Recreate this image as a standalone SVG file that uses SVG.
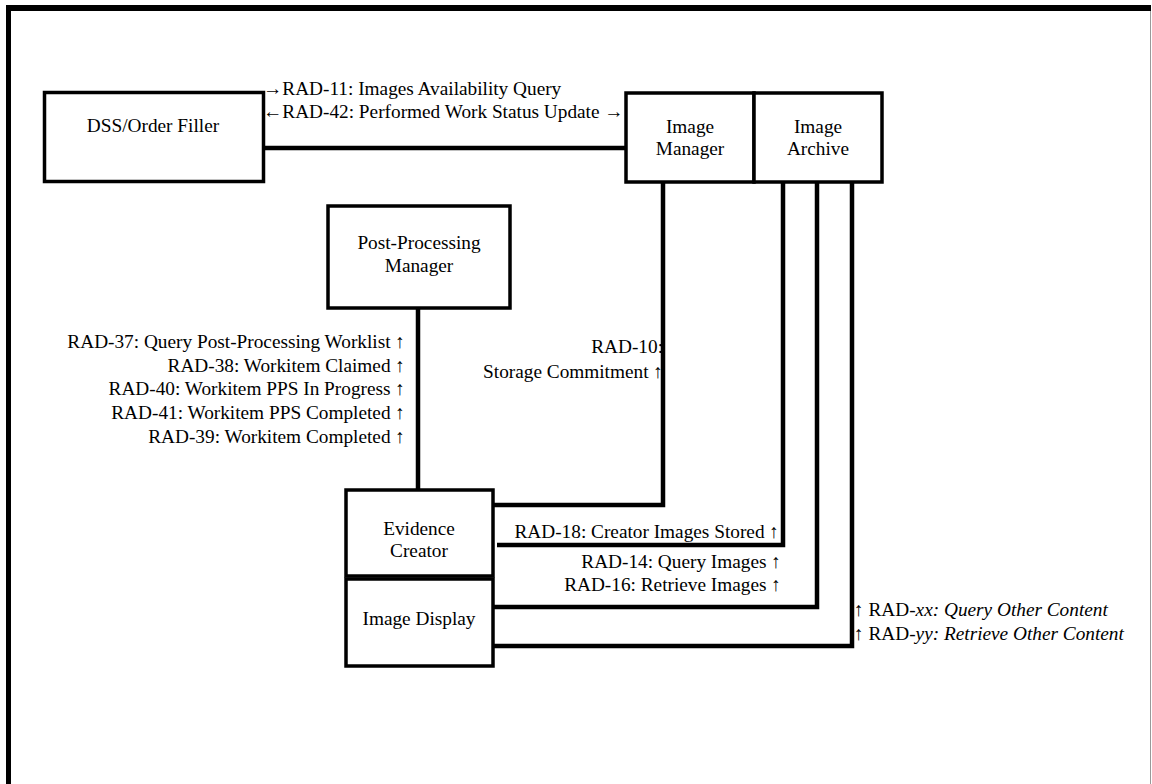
<svg xmlns="http://www.w3.org/2000/svg" width="1152" height="784" viewBox="0 0 1152 784">
<style>
.box{fill:#fff;stroke:#000;stroke-width:3.5}
.t{font-family:"Liberation Serif","Times New Roman",serif;font-size:19.3px;fill:#000}
.c{text-anchor:middle}
.r{text-anchor:end}
.i{font-style:italic}
.ln{fill:none;stroke:#000;stroke-width:4.5;stroke-linecap:butt;stroke-linejoin:miter}
</style>
<rect width="1152" height="784" fill="#fff"/>
<g id="frame">
<rect x="6" y="5" width="1145" height="6" fill="#000"/>
<rect x="6" y="5" width="5" height="779" fill="#000"/>
<line x1="1150.5" y1="11" x2="1150.5" y2="784" stroke="#999" stroke-width="1"/>
</g>
<g id="connectors">
<polyline class="ln" points="264,148 627,148"/>
<polyline class="ln" points="418,308 418,490"/>
<polyline class="ln" points="663,183 663,505 493,505"/>
<polyline class="ln" points="783,183 783,545 497,545"/>
<polyline class="ln" points="817,183 817,607 493,607"/>
<polyline class="ln" points="852,183 852,646 493,646"/>
</g>
<g id="labels">
<text class="t" x="263" y="95">→RAD-11: Images Availability Query</text>
<text class="t" x="263" y="118">←RAD-42: Performed Work Status Update →</text>
<text class="t r" x="405" y="348">RAD-37: Query Post-Processing Worklist ↑</text>
<text class="t r" x="405" y="372">RAD-38: Workitem Claimed ↑</text>
<text class="t r" x="405" y="395">RAD-40: Workitem PPS In Progress ↑</text>
<text class="t r" x="405" y="419">RAD-41: Workitem PPS Completed ↑</text>
<text class="t r" x="405" y="443">RAD-39: Workitem Completed ↑</text>
<text class="t r" x="663" y="353">RAD-10:</text>
<text class="t r" x="663" y="378">Storage Commitment ↑</text>
<text class="t r" x="779" y="538">RAD-18: Creator Images Stored ↑</text>
<text class="t r" x="781" y="568">RAD-14: Query Images ↑</text>
<text class="t r" x="781" y="591">RAD-16: Retrieve Images ↑</text>
<text class="t" x="854" y="616">↑ RAD-<tspan class="i">xx: Query Other Content</tspan></text>
<text class="t" x="854" y="640">↑ RAD-<tspan class="i">yy: Retrieve Other Content</tspan></text>
</g>
<g id="dss">
<rect class="box" x="44.5" y="92.5" width="219" height="89"/>
<text class="t c" x="153" y="132">DSS/Order Filler</text>
</g>
<g id="image-manager">
<rect class="box" x="626" y="93" width="128" height="89"/>
<text class="t c" x="690" y="133">Image</text>
<text class="t c" x="690" y="155">Manager</text>
</g>
<g id="image-archive">
<rect class="box" x="754" y="93" width="128" height="89"/>
<text class="t c" x="818" y="133">Image</text>
<text class="t c" x="818" y="155">Archive</text>
</g>
<g id="ppm">
<rect class="box" x="328" y="206" width="182" height="102"/>
<text class="t c" x="419" y="249">Post-Processing</text>
<text class="t c" x="419" y="272">Manager</text>
</g>
<g id="evidence-creator">
<rect class="box" x="346" y="490" width="147" height="86"/>
<text class="t c" x="419" y="535">Evidence</text>
<text class="t c" x="419" y="557">Creator</text>
</g>
<g id="image-display">
<rect class="box" x="346" y="579" width="147" height="87"/>
<text class="t c" x="419" y="625">Image Display</text>
</g>
</svg>
